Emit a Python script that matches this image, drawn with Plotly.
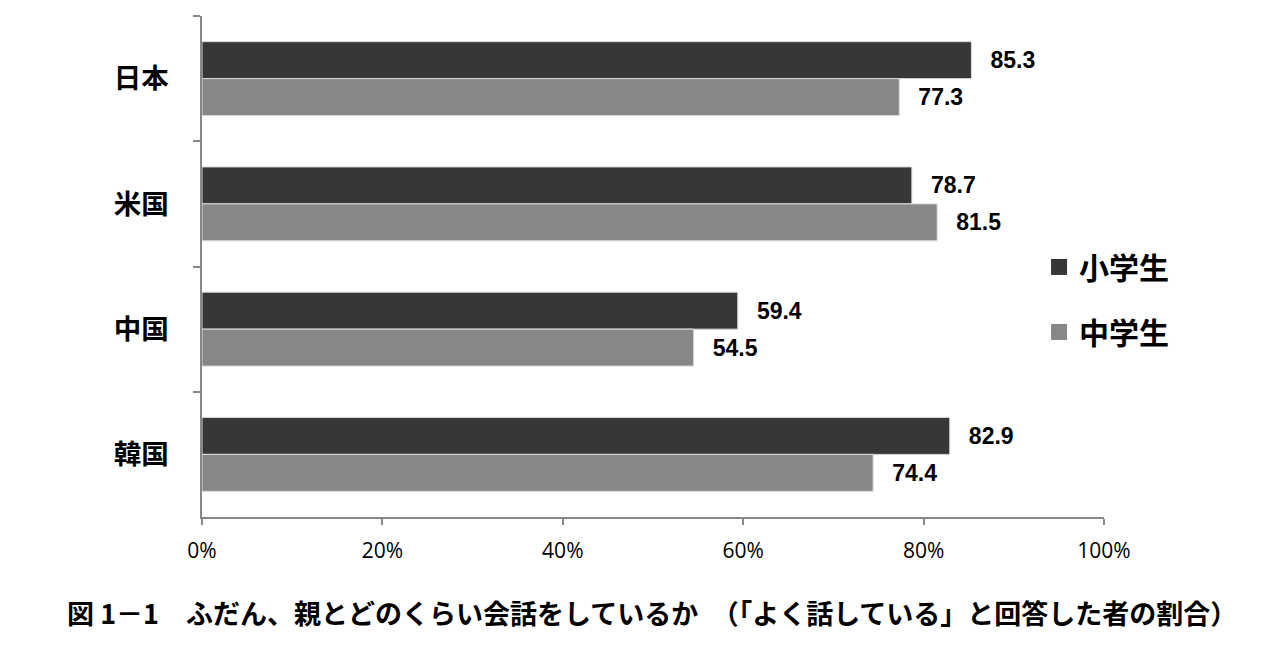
import plotly.graph_objects as go

countries = ["日本", "米国", "中国", "韓国"]
elementary = [85.3, 78.7, 59.4, 82.9]
junior_high = [77.3, 81.5, 54.5, 74.4]
series_names = ["小学生", "中学生"]
x_ticks = [0, 20, 40, 60, 80, 100]
x_tick_labels = ["0%", "20%", "40%", "60%", "80%", "100%"]
caption = "図 1－1　ふだん、親とどのくらい会話をしているか　（「よく話している」と回答した者の割合）"

dark = "#373737"
gray = "#878787"
num_font = dict(family="Liberation Sans Narrow, Liberation Sans, Arial", size=23, color="black", weight="bold")
cjk = "Noto Sans CJK JP"

fig = go.Figure()
for name, vals, col in [(series_names[0], elementary, dark), (series_names[1], junior_high, gray)]:
    fig.add_trace(go.Bar(
        y=countries, x=vals, orientation="h", name=name,
        marker=dict(color=col, line=dict(color="#d9d9d9", width=1)),
        text=[f"\u2002\u2009{v:.1f}" for v in vals], textposition="outside",
        textfont=num_font, constraintext="none", cliponaxis=False,
        showlegend=False,
    ))
    fig.add_trace(go.Scatter(
        x=[None], y=[None], mode="markers", name=name, legendgroup=name,
        marker=dict(symbol="square", size=16, color=col),
        showlegend=True,
    ))

fig.update_layout(
    width=1274, height=654,
    margin=dict(l=202, r=170, t=16, b=137),
    plot_bgcolor="white", paper_bgcolor="white",
    barmode="group", bargap=0.41, bargroupgap=0,
    showlegend=True,
    legend=dict(x=0.928, y=0.551, xanchor="left", yanchor="top",
                traceorder="grouped", tracegroupgap=23,
                font=dict(family=cjk, size=30, color="black", weight="bold"),
                bgcolor="rgba(0,0,0,0)"),
    xaxis=dict(range=[0, 100], tickvals=x_ticks, ticktext=x_tick_labels,
               showgrid=False, zeroline=False, showline=True,
               linecolor="#888888", linewidth=1.5,
               ticks="outside", ticklen=6, tickcolor="#888888", tickwidth=1.5,
               tickfont=dict(family="Open Sans", size=21, color="black"),
               ticklabelstandoff=8),
    yaxis=dict(categoryorder="array", categoryarray=countries, autorange="reversed",
               showgrid=False, zeroline=False, showline=True,
               linecolor="#888888", linewidth=1.5,
               ticks="outside", ticklen=7, tickcolor="#888888", tickwidth=1.5,
               tickson="boundaries",
               tickfont=dict(family=cjk, size=27.5, color="black", weight="bold"),
               ticklabelstandoff=26),
    annotations=[dict(text=caption, xref="paper", yref="paper", x=0.499, y=-0.19,
                      xanchor="center", yanchor="middle", showarrow=False,
                      font=dict(family=cjk, size=27, color="black", weight="bold"))],
)

fig.write_html("out.html")
